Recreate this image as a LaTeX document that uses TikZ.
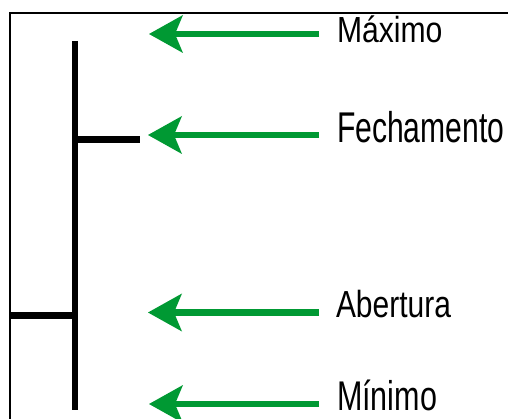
\documentclass[tikz,border=0pt]{standalone}
\usepackage{fontspec}
\usepackage{graphicx}
\setmainfont{Liberation Sans}
\usetikzlibrary{arrows.meta}
\definecolor{arrowgreen}{RGB}{0,153,51}
\tikzset{
  framestyle/.style={line width=2pt, black},
  barstyle/.style={line width=6.5pt, black},
  greenarrow/.style={line width=6.5pt, arrowgreen,
    -{Stealth[length=34pt, width=38pt, inset=8pt, line width=0pt]}},
  lbl/.style={anchor=base west, inner sep=0pt, outer sep=0pt}
}
\newcommand{\lbltext}[3]{\scalebox{#2}[1]{\fontsize{#1}{#1}\selectfont #3}}
\begin{document}
\begin{tikzpicture}[x=1pt,y=-1pt]
\useasboundingbox (0,0) rectangle (508,419);
\fill[white] (0,0) rectangle (508,419);
% frame
\draw[framestyle] (10,419) -- (10,13) -- (508,13);
% price bar
\coordinate (bartop) at (75,41);
\coordinate (barbot) at (75,410);
\coordinate (closeR) at (140,139.5);
\coordinate (closeL) at (75,139.5);
\coordinate (openL) at (10,315.5);
\coordinate (openR) at (75,315.5);
\draw[barstyle] (bartop) -- (barbot);
\draw[barstyle] (closeL) -- (closeR);
\draw[barstyle] (openL) -- (openR);
% labels
\node[lbl] (max) at (337,43) {\lbltext{36.3}{0.83}{Máximo}};
\node[lbl] (fech) at (337,143) {\lbltext{43}{0.70}{Fechamento}};
\node[lbl] (abe) at (336,317) {\lbltext{37.7}{0.795}{Abertura}};
\node[lbl] (min) at (337,410) {\lbltext{41.5}{0.735}{Mínimo}};
% arrows
\coordinate (maxS) at (319,34);   \coordinate (maxT) at (149,34);
\coordinate (fechS) at (319,135); \coordinate (fechT) at (148,135);
\coordinate (abeS) at (319,312.5); \coordinate (abeT) at (148,312.5);
\coordinate (minS) at (319,404);  \coordinate (minT) at (149,404);
\draw[greenarrow] (maxS) -- (maxT);
\draw[greenarrow] (fechS) -- (fechT);
\draw[greenarrow] (abeS) -- (abeT);
\draw[greenarrow] (minS) -- (minT);
\end{tikzpicture}
\end{document}
